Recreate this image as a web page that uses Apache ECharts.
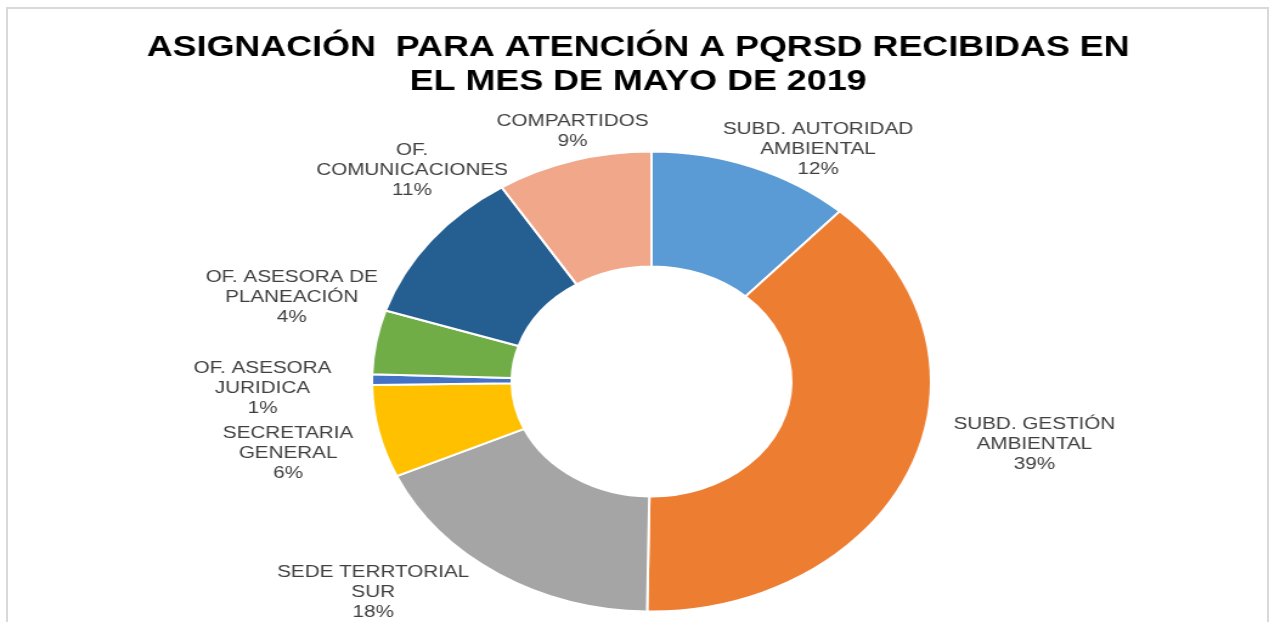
<!DOCTYPE html>
<html>
<head>
<meta charset="utf-8">
<script src="https://cdn.jsdelivr.net/npm/echarts@6/dist/echarts.min.js"></script>
<style>
  html, body { margin: 0; padding: 0; background: #fff; overflow: hidden; }
  .frame { position: absolute; left: 6px; top: 7px; width: 1259px; height: 700px; border: 2px solid #d9d9d9; }
  /* the original picture is stretched sideways, so the chart is scaled on x */
  .stretch { position: absolute; left: 0; top: 0; width: 1269px; height: 622px; overflow: hidden; }
  #chart { width: 1044px; height: 622px; transform: scaleX(1.2155); transform-origin: 0 0; }
</style>
</head>
<body>
<div class="frame"></div>
<div class="stretch"><div id="chart"></div></div>
<script>
// data (counts, labels show the rounded share)
const categories = [
  'SUBD. AUTORIDAD\nAMBIENTAL',
  'SUBD. GESTIÓN\nAMBIENTAL',
  'SEDE TERRTORIAL\nSUR',
  'SECRETARIA\nGENERAL',
  'OF. ASESORA\nJURIDICA',
  'OF. ASESORA DE\nPLANEACIÓN',
  'OF.\nCOMUNICACIONES',
  'COMPARTIDOS'
];
const values = [47, 154, 72, 26, 3, 18, 44, 36];
const colors = ['#5B9BD5', '#ED7D31', '#A5A5A5', '#FFC000', '#4472C4', '#70AD47', '#255E91', '#F1A78A'];

// where excel put each data label (centre of the text block, chart coords before stretch)
const labelPos = [
  [673, 149], [851, 444], [307, 592], [237, 453],
  [216, 388], [240, 297], [339, 170], [471, 131]
];

const chart = echarts.init(document.getElementById('chart'));

const option = {
  backgroundColor: 'transparent',
  animation: false,
  title: {
    text: 'ASIGNACIÓN  PARA ATENCIÓN A PQRSD RECIBIDAS EN\nEL MES DE MAYO DE 2019',
    left: 520,
    top: 26,
    textAlign: 'center',
    textStyle: {
      fontFamily: 'Liberation Sans, Arial, sans-serif',
      fontWeight: 'bold',
      fontSize: 29.5,
      lineHeight: 34,
      color: '#000'
    }
  },
  series: [{
    type: 'pie',
    center: [536, 381.5],
    radius: [115, 230],
    startAngle: 90,
    clockwise: true,
    percentPrecision: 0,
    avoidLabelOverlap: false,
    itemStyle: { borderColor: '#fff', borderWidth: 2 },
    label: {
      show: true,
      position: 'outside',
      formatter: '{b}\n{d}%',
      fontFamily: 'Liberation Sans, Arial, sans-serif',
      fontSize: 17,
      lineHeight: 20,
      color: '#404040',
      align: 'center'
    },
    labelLine: { show: false },
    labelLayout: function (params) {
      const p = labelPos[params.dataIndex];
      return { x: p[0], y: p[1], align: 'center', verticalAlign: 'middle' };
    },
    emphasis: { disabled: true },
    data: categories.map((c, i) => ({ name: c, value: values[i], itemStyle: { color: colors[i] } }))
  }]
};

chart.setOption(option);
</script>
</body>
</html>
